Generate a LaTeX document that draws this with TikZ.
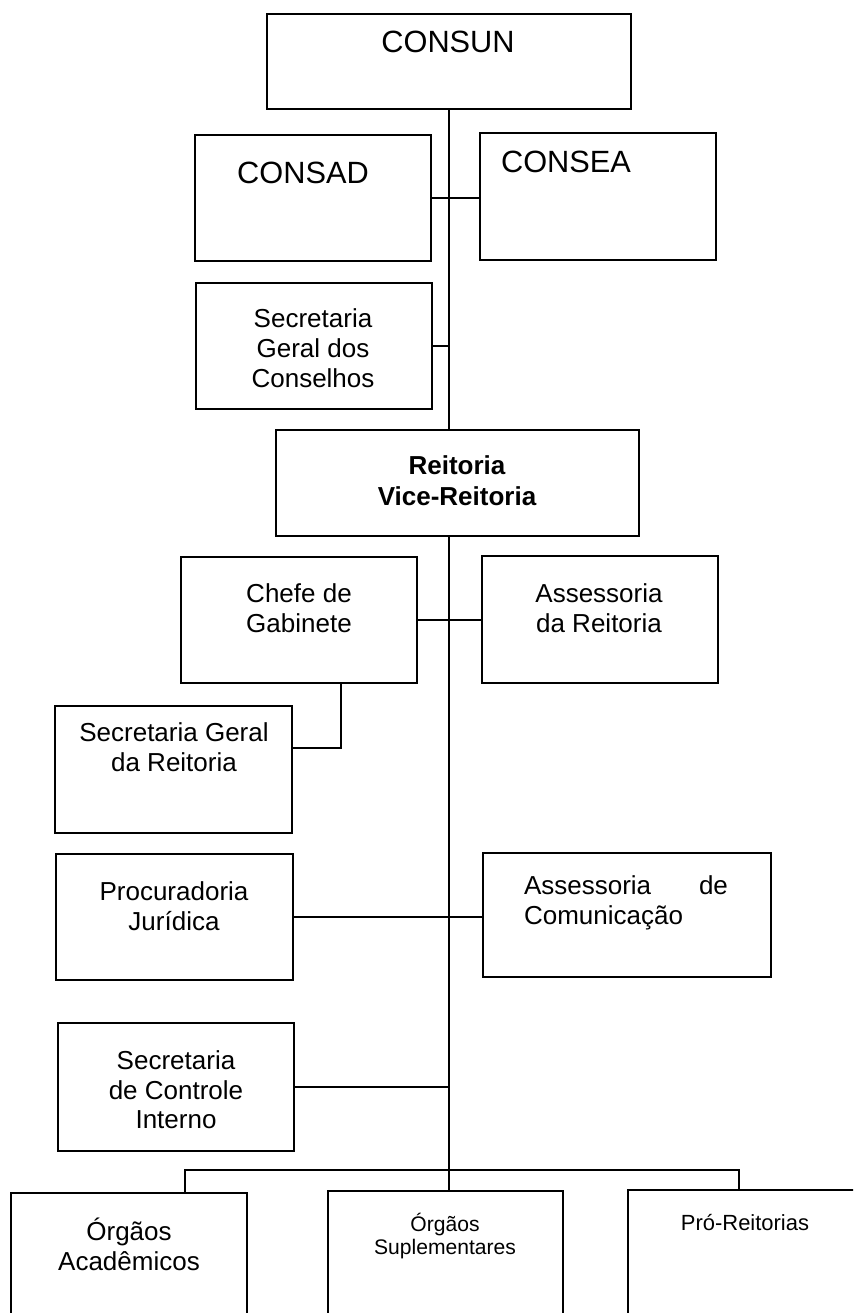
\documentclass[tikz,border=0pt]{standalone}
\usepackage{fontspec}
\setmainfont{Liberation Sans}
\usetikzlibrary{calc}

\begin{document}
\begin{tikzpicture}[x=0.02cm,y=-0.02cm,line width=1.1pt,
  box/.style={draw,rectangle,inner sep=0pt,outer sep=0pt},
  lbl/.style={align=center,inner sep=0pt,font=\fontsize{14.8}{17}\selectfont},
  big/.style={inner sep=0pt,font=\fontsize{17.5}{20}\selectfont},
  small/.style={align=center,inner sep=0pt,font=\fontsize{12}{13}\selectfont}]
\useasboundingbox (0,0) rectangle (853,1313);
\clip (0,0) rectangle (853,1313);

%conselhos
\node [box,minimum width=7.28cm,minimum height=1.9cm] (consun) at(449,61.5){};
\node [big] (consunT) at(448,42){CONSUN};

\node [box,minimum width=4.72cm,minimum height=2.52cm] (consad) at(313,198){};
\node [big] (consadT) at(303,173){CONSAD};

\node [box,minimum width=4.72cm,minimum height=2.54cm] (consea) at(598,196.5){};
\node [big] (conseaT) at(566,162){CONSEA};

\node [box,minimum width=4.72cm,minimum height=2.52cm] (secCons) at(314,346){};
\node [lbl] (secConsT) at(313,348){Secretaria\\Geral dos\\Conselhos};

%reitoria
\node [box,minimum width=7.26cm,minimum height=2.12cm] (reitoria) at(457.5,483){};
\node [lbl,font=\fontsize{14.8}{17.6}\selectfont\bfseries] (reitoriaT) at(457,480.5){Reitoria\\Vice-Reitoria};

\node [box,minimum width=4.72cm,minimum height=2.52cm] (chefe) at(299,620){};
\node [lbl] (chefeT) at(299,608){Chefe de\\Gabinete};

\node [box,minimum width=4.72cm,minimum height=2.54cm] (assReit) at(600,619.5){};
\node [lbl] (assReitT) at(599,608){Assessoria\\da Reitoria};

\node [box,minimum width=4.74cm,minimum height=2.54cm] (secReit) at(173.5,769.5){};
\node [lbl] (secReitT) at(174,747){Secretaria Geral\\da Reitoria};

\node [box,minimum width=4.74cm,minimum height=2.52cm] (procur) at(174.5,917){};
\node [lbl] (procurT) at(174,906.5){Procuradoria\\Jurídica};

\node [box,minimum width=5.76cm,minimum height=2.48cm] (assCom) at(627,915){};
\node [lbl,align=left,text width=4.08cm] (assComT) at(626,903){Assessoria\hfill de\\Comunicação};

\node [box,minimum width=4.72cm,minimum height=2.56cm] (secCtrl) at(176,1087){};
\node [lbl,font=\fontsize{14.8}{16.7}\selectfont] (secCtrlT) at(176,1090){Secretaria\\de Controle\\Interno};

%orgaos
\node [box,minimum width=4.72cm,minimum height=2.94cm] (orgAcad) at(129,1266.5){};
\node [lbl] (orgAcadT) at(129,1244){Órgãos\\Acadêmicos};

\node [box,minimum width=4.70cm,minimum height=2.98cm] (orgSup) at(445.5,1265.5){};
\node [small] (orgSupT) at(445,1236){Órgãos\\Suplementares};

\node [box,minimum width=4.72cm,minimum height=3.0cm] (proReit) at(746,1265){};
\node [small,font=\fontsize{12.5}{14}\selectfont] (proReitT) at(745,1223){Pró-Reitorias};

%ligacoes
\draw (consun.south) -- (consun.south |- reitoria.north);
\draw (consad.east) -- (consad.east -| consea.west);
\draw (secCons.east) -- (secCons.east -| consun.south);
\draw (reitoria.south -| consun.south) -- (consun.south |- orgSup.north);
\draw (chefe.east) -- (chefe.east -| assReit.west);
\draw ($(chefe.south)+(42,0)$) |- ($(secReit.east)+(0,-21.5)$);
\draw (procur.east) -- (procur.east -| assCom.west);
\draw (secCtrl.east) -- (secCtrl.east -| consun.south);
\draw ($(orgAcad.north)+(56,0)$) -- ++(0,-23) -| ($(proReit.north)+(-7,0)$);
\end{tikzpicture}
\end{document}
